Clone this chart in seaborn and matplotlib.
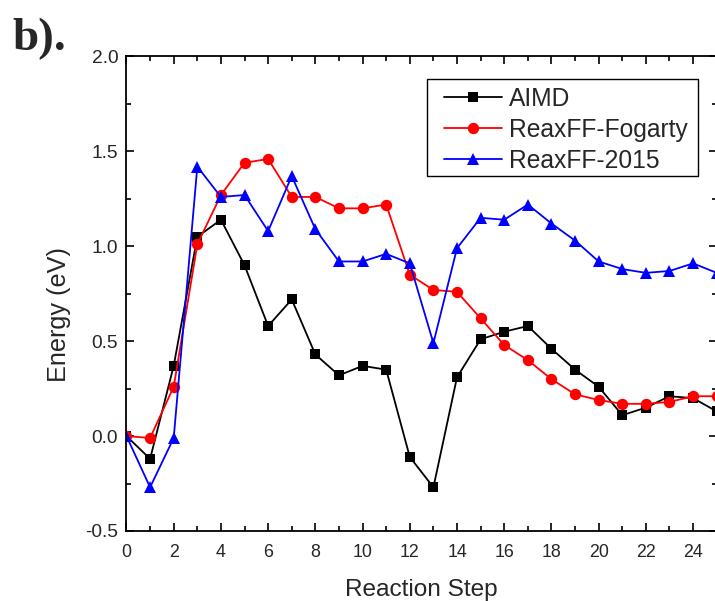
import numpy as np
import pandas as pd
import matplotlib
matplotlib.use("Agg")
import matplotlib.pyplot as plt
from matplotlib.patches import Rectangle
from matplotlib.ticker import MultipleLocator, FormatStrFormatter
import seaborn as sns

# Energy profiles along the reaction path
steps = list(range(26))
aimd = [0.0, -0.12, 0.37, 1.05, 1.14, 0.90, 0.58, 0.72, 0.43, 0.32, 0.37, 0.35, -0.11,
        -0.27, 0.31, 0.51, 0.55, 0.58, 0.46, 0.35, 0.26, 0.11, 0.15, 0.21, 0.20, 0.13]
fogarty = [0.0, -0.01, 0.26, 1.01, 1.27, 1.44, 1.46, 1.26, 1.26, 1.20, 1.20, 1.22, 0.85,
           0.77, 0.76, 0.62, 0.48, 0.40, 0.30, 0.22, 0.19, 0.17, 0.17, 0.18, 0.21, 0.21]
reax2015 = [0.0, -0.27, -0.01, 1.42, 1.26, 1.27, 1.08, 1.37, 1.09, 0.92, 0.92, 0.96, 0.91,
            0.49, 0.99, 1.15, 1.14, 1.22, 1.12, 1.03, 0.92, 0.88, 0.86, 0.87, 0.91, 0.86]
series_names = ["AIMD", "ReaxFF-Fogarty", "ReaxFF-2015"]

sns.set_style("ticks")
plt.rcParams["font.family"] = ["Liberation Sans", "DejaVu Sans"]

fig = plt.figure(figsize=(7.15, 6.01), dpi=100)
ax = fig.add_axes([0.1769, 0.1165, 0.8255, 0.7895])

styles = [
    (aimd, "black", "s", 7.4),
    (fogarty, "red", "o", 8.2),
    (reax2015, "blue", "^", 9.0),
]
for (vals, color, marker, ms), name in zip(styles, series_names):
    sns.lineplot(x=steps, y=vals, ax=ax, color=color, marker=marker, markersize=ms,
                 markeredgewidth=0, linewidth=1.3, label=name, clip_on=True)

ax.set_xlim(0, 25)
ax.set_ylim(-0.5, 2.0)
ax.xaxis.set_major_locator(MultipleLocator(2))
ax.xaxis.set_minor_locator(MultipleLocator(1))
ax.yaxis.set_major_locator(MultipleLocator(0.5))
ax.yaxis.set_minor_locator(MultipleLocator(0.25))
ax.yaxis.set_major_formatter(FormatStrFormatter("%.1f"))

ax.tick_params(which="both", direction="in", top=True, right=True, color="black", width=1.2)
ax.tick_params(which="major", length=5.5)
ax.tick_params(axis="x", which="major", labelsize=12.8, pad=9.5)
ax.tick_params(axis="y", which="major", labelsize=13.8, pad=6)
ax.tick_params(which="minor", length=3.5)
for sp in ax.spines.values():
    sp.set_color("black")
    sp.set_linewidth(1.3)

ax.set_xlabel("Reaction Step", fontsize=17.6, labelpad=13)
ax.set_ylabel("Energy (eV)", fontsize=18.2)
ax.yaxis.set_label_coords(-0.094, 0.457)

leg = ax.legend(loc="upper left", bbox_to_anchor=(0.538, 0.936), fontsize=17.7,
                frameon=False, handlelength=2.35, handletextpad=0.3,
                labelspacing=0.28, borderpad=0, borderaxespad=0)

# square black frame around the legend entries, padded wider on the left
fig.canvas.draw()
bb = leg.get_window_extent()
pad_l, pad_r, pad_t, pad_b = 17, 10, 8, 3
x0, y0 = fig.transFigure.inverted().transform((bb.x0 - pad_l, bb.y0 - pad_b))
x1, y1 = fig.transFigure.inverted().transform((bb.x1 + pad_r, bb.y1 + pad_t))
fig.add_artist(Rectangle((x0, y0), x1 - x0, y1 - y0, transform=fig.transFigure,
                         facecolor="none", edgecolor="black", linewidth=1.0, zorder=5))

fig.text(12 / 715, 1 - 50 / 601, "b).", fontsize=34, fontweight="bold",
         family="Liberation Serif", ha="left", va="baseline")

fig.savefig("out.png", dpi=100, facecolor="white")
